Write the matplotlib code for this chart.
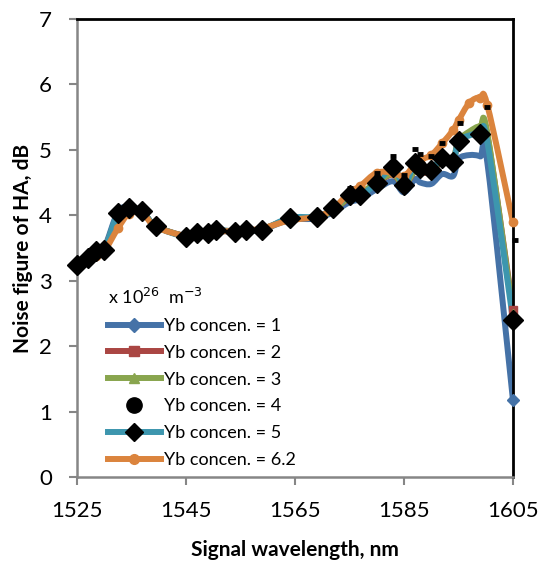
import numpy as np
import matplotlib
matplotlib.use("Agg")
import matplotlib.pyplot as plt
from matplotlib.path import Path
from matplotlib.patches import PathPatch
from matplotlib.lines import Line2D

plt.rcParams['font.family'] = ['Lato', 'DejaVu Sans']

# wavelengths (nm) shared by the line series
wl = [1525, 1527, 1528.5, 1530, 1532.5, 1534.5, 1537, 1539.5, 1545, 1547, 1549, 1550.5,
      1554, 1556, 1559, 1564, 1569, 1572, 1575, 1577, 1580, 1583, 1585, 1587, 1588,
      1590, 1592, 1594, 1595, 1597, 1599, 1600.3, 1605]

# noise figure (dB) per Yb concentration
nf_1 = [3.24, 3.35, 3.45, 3.50, 4.05, 4.12, 4.05, 3.83, 3.68, 3.72, 3.73, 3.76,
        3.75, 3.77, 3.78, 3.93, 3.95, 4.05, 4.20, 4.25, 4.40, 4.52, 4.35, 4.55, 4.50,
        4.48, 4.63, 4.60, 4.86, 4.92, 4.90, 4.80, 1.17]
nf_2 = [3.24, 3.34, 3.43, 3.48, 3.98, 4.08, 4.05, 3.83, 3.68, 3.72, 3.73, 3.76,
        3.76, 3.77, 3.79, 3.94, 3.97, 4.08, 4.27, 4.32, 4.50, 4.62, 4.45, 4.68, 4.66,
        4.66, 4.84, 4.85, 5.12, 5.25, 5.33, 5.22, 2.55]
nf_3 = [3.24, 3.34, 3.43, 3.48, 3.97, 4.07, 4.05, 3.83, 3.68, 3.72, 3.73, 3.76,
        3.76, 3.77, 3.79, 3.94, 3.97, 4.08, 4.28, 4.33, 4.51, 4.63, 4.46, 4.69, 4.67,
        4.67, 4.85, 4.86, 5.14, 5.28, 5.36, 5.25, 2.50]
nf_5 = [3.24, 3.35, 3.45, 3.47, 4.03, 4.11, 4.06, 3.83, 3.67, 3.73, 3.73, 3.78,
        3.75, 3.78, 3.78, 3.96, 3.98, 4.11, 4.31, 4.31, 4.49, 4.74, 4.46, 4.80, 4.72,
        4.69, 4.88, 4.82, 5.13, 5.22, 5.25, 5.12, 2.40]
nf_62 = [3.24, 3.30, 3.38, 3.45, 3.80, 4.02, 4.03, 3.82, 3.68, 3.70, 3.72, 3.75,
         3.76, 3.77, 3.80, 3.92, 3.98, 4.10, 4.35, 4.45, 4.65, 4.65, 4.60, 4.78, 4.85,
         4.92, 5.10, 5.30, 5.45, 5.72, 5.80, 5.68, 3.89]

# Yb concen. = 4 (marker only)
wl_4 = [1575, 1580, 1583, 1585, 1587, 1588, 1590, 1592, 1595.3, 1600.2, 1605.3]
nf_4 = [4.42, 4.65, 4.91, 4.62, 5.01, 4.94, 4.91, 5.10, 5.41, 5.66, 3.62]

labels = ['Yb concen. = 1', 'Yb concen. = 2', 'Yb concen. = 3', 'Yb concen. = 4',
          'Yb concen. = 5', 'Yb concen. = 6.2']
colors = ['#4572A7', '#AA4643', '#89A54E', 'black', '#3D96AE', '#DB843D']

# diamonds of series 5 are not shown at the extra peak points
diamond_idx = [i for i in range(len(wl)) if wl[i] not in (1597, 1600.3)]


def smooth_line(ax, x, y, color, lw=4.3):
    # Excel-like smoothed line as cubic bezier segments
    pts = np.column_stack([x, y]).astype(float)
    n = len(pts)
    verts = [pts[0]]
    codes = [Path.MOVETO]
    for i in range(n - 1):
        p0 = pts[i - 1] if i > 0 else pts[i]
        p1 = pts[i]
        p2 = pts[i + 1]
        p3 = pts[i + 2] if i + 2 < n else pts[i + 1]
        verts += [p1 + (p2 - p0) / 6, p2 - (p3 - p1) / 6, p2]
        codes += [Path.CURVE4] * 3
    patch = PathPatch(Path(verts, codes), fill=False, edgecolor=color, lw=lw,
                      capstyle='round', joinstyle='round', zorder=2)
    ax.add_patch(patch)


fig = plt.figure(figsize=(5.41, 5.67), dpi=100)
ax = fig.add_axes([77 / 541, 1 - 477 / 567, 436 / 541, 458 / 567])

smooth_line(ax, wl, nf_1, colors[0])
smooth_line(ax, wl, nf_2, colors[1])
smooth_line(ax, wl, nf_3, colors[2])
smooth_line(ax, wl, nf_5, colors[4])
smooth_line(ax, wl, nf_62, colors[5])

ax.plot(wl[-1:], nf_1[-1:], 'D', color=colors[0], ms=6, zorder=3, clip_on=False)
ax.plot(wl[-1:], nf_2[-1:], 's', color=colors[1], ms=6, zorder=3, clip_on=False)
ax.plot(wl[-1:], nf_3[-1:], '^', color=colors[2], ms=6, zorder=3, clip_on=False)
ax.plot(wl, nf_5, 'D', color='black', ms=10, zorder=4, ls='none', markevery=diamond_idx,
        clip_on=False)
ax.plot(wl, nf_62, 'o', color=colors[5], ms=6, zorder=3, clip_on=False)
ax.plot(wl_4, nf_4, '_', color='black', ms=5, mew=3.5, zorder=5, clip_on=False)

ax.set_xlim(1525, 1605)
ax.set_ylim(0, 7)
ax.set_xticks([1525, 1545, 1565, 1585, 1605])
ax.set_yticks(range(8))
ax.tick_params(axis='both', labelsize=16, color='#868686', width=1.5, length=6,
               direction='out')
ax.tick_params(axis='x', pad=11)
ax.tick_params(axis='y', pad=12)
for s in ['left', 'bottom']:
    ax.spines[s].set_color('#868686')
    ax.spines[s].set_linewidth(1.8)
for s in ['top', 'right']:
    ax.spines[s].set_color('black')
    ax.spines[s].set_linewidth(2)

ax.set_xlabel('Signal wavelength, nm', fontsize=15, fontweight='bold', labelpad=14)
ax.set_ylabel('Noise figure of HA, dB', fontsize=15, fontweight='bold', labelpad=4)

markers = ['D', 's', '^', 'o', 'D', 'o']
handles = []
for i, lab in enumerate(labels):
    if i == 3:
        handles.append(Line2D([], [], ls='none', marker='o', color='black', ms=11, label=lab))
    elif i == 4:
        handles.append(Line2D([], [], color=colors[i], lw=4.3, marker='D', mfc='black',
                              mec='black', ms=9, label=lab))
    else:
        handles.append(Line2D([], [], color=colors[i], lw=4.3, marker=markers[i], ms=7,
                              label=lab))
leg = ax.legend(handles=handles, loc='lower left', bbox_to_anchor=(0.041, -0.008),
                frameon=False, fontsize=13, handlelength=2.95, handletextpad=0.2,
                labelspacing=0.6, title=r'x 10$^{26}$  m$^{-3}$',
                title_fontsize=13, alignment='left', borderaxespad=0.3)

fig.savefig('out.png', dpi=100)
